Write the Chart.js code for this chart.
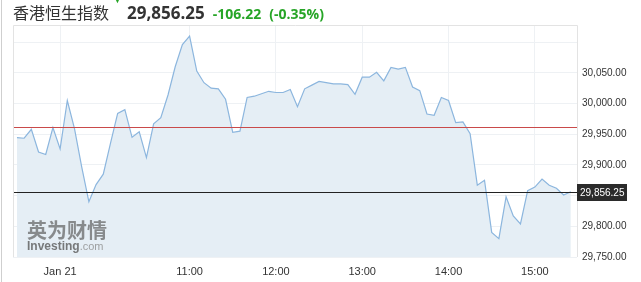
<!DOCTYPE html>
<html>
<head>
<meta charset="utf-8">
<script src="https://cdn.jsdelivr.net/npm/chart.js@4.4.1/dist/chart.umd.min.js"></script>
<style>
  body { margin: 0; background: #fff; }
  #wrap { position: relative; width: 641px; height: 282px; overflow: hidden; }
  #head { position: absolute; left: 13px; top: 0; height: 25px; line-height: 25px; white-space: nowrap; }
  #head .name { font: 16px 'Noto Sans CJK SC', sans-serif; color: #333; }
  #head .price { font: bold 17px 'Open Sans', 'Noto Sans', sans-serif; color: #333; margin-left: 18px; }
  #head .chg { font: bold 14px 'Open Sans', 'Noto Sans', sans-serif; color: #27a527; margin-left: 8px; }
  #head .arrow { position: absolute; left: 100px; top: -7px; font-size: 9px; color: #27a527; line-height: 14px; }
</style>
</head>
<body>
<div id="wrap">
  <canvas id="hsiChart" width="641" height="282"></canvas>
  <div id="head">
    <span class="name">香港恒生指数</span><span class="arrow">▼</span><span class="price">29,856.25</span><span class="chg">-106.22</span><span class="chg">(-0.35%)</span>
  </div>
</div>
<script>
// 5-minute closes, Jan 21 session
const values = [
  29944.6, 29943.5, 29958, 29921, 29917, 29961, 29926, 30005, 29959, 29897,
  29840, 29868, 29885, 29935, 29984, 29990, 29945, 29954, 29912, 29967,
  29977, 30014, 30060, 30096, 30110, 30053, 30034, 30025, 30024, 30007,
  29953, 29955, 30010, 30012, 30016, 30020, 30018, 30018, 30023, 29995,
  30024, 30030, 30036, 30034, 30032, 30032, 30031, 30015, 30043, 30043,
  30051, 30037, 30059, 30056, 30059, 30027, 30021, 29983, 29981, 30010,
  30005, 29969, 29970, 29951, 29867, 29875, 29790, 29780, 29848, 29817,
  29804, 29858, 29864, 29877, 29867, 29862, 29851, 29856.25
];
const timeLabels = ['Jan 21', '11:00', '12:00', '13:00', '14:00', '15:00'];
const timeIndex = [6, 24, 36, 48, 60, 72];
const yGridValues = [29750, 29800, 29850, 29900, 29950, 30000, 30050, 30100];
const yLabelValues = [29750, 29800, 29900, 29950, 30000, 30050];
const prevClose = 29962.47;
const lastPrice = 29856.25;

const fmt = v => v.toLocaleString('en-US', { minimumFractionDigits: 2, maximumFractionDigits: 2 });

const extras = {
  id: 'extras',
  afterDatasetsDraw(chart) {
    const { ctx, chartArea: a, scales: { y } } = chart;
    ctx.save();
    // watermark
    ctx.textBaseline = 'alphabetic';
    ctx.fillStyle = 'rgba(95,95,95,0.7)';
    ctx.font = 'bold 20px "Noto Sans CJK SC"';
    ctx.fillText('英为财情', 27, 238);
    ctx.font = 'bold 12px "Liberation Sans", Arial';
    ctx.fillStyle = 'rgba(90,90,90,0.8)';
    ctx.fillText('Investing', 27, 250);
    const w = ctx.measureText('Investing').width;
    ctx.font = '11px "Liberation Sans", Arial';
    ctx.fillStyle = 'rgba(140,140,140,0.8)';
    ctx.fillText('.com', 27 + w, 250);

    ctx.lineWidth = 1;
    const yp = Math.round(y.getPixelForValue(prevClose)) + 0.5;
    ctx.strokeStyle = '#c94a4a';
    ctx.beginPath(); ctx.moveTo(a.left, yp); ctx.lineTo(a.right, yp); ctx.stroke();
    const yl = Math.round(y.getPixelForValue(lastPrice)) + 0.5;
    ctx.strokeStyle = '#222';
    ctx.beginPath(); ctx.moveTo(a.left, yl); ctx.lineTo(a.right, yl); ctx.stroke();
    // plot frame
    ctx.strokeStyle = '#e3e3e3';
    ctx.beginPath();
    ctx.moveTo(a.left + 0.5, a.bottom); ctx.lineTo(a.left + 0.5, a.top + 0.5);
    ctx.lineTo(a.right + 0.5, a.top + 0.5); ctx.lineTo(a.right + 0.5, a.bottom);
    ctx.stroke();
    // outer left rule
    ctx.strokeStyle = '#cfcfcf';
    ctx.beginPath(); ctx.moveTo(1.5, 0); ctx.lineTo(1.5, chart.height); ctx.stroke();
    // last price tag
    ctx.fillStyle = '#2b2b2b';
    ctx.fillRect(a.right, yl - 8.5, 50, 17);
    ctx.fillStyle = '#fff';
    ctx.font = '10px "Liberation Sans", Arial';
    ctx.textBaseline = 'middle';
    ctx.fillText(fmt(lastPrice), a.right + 3, yl + 0.5);
    ctx.restore();
  }
};

new Chart(document.getElementById('hsiChart'), {
  type: 'line',
  data: {
    datasets: [{
      data: values.map((v, i) => ({ x: i, y: v })),
      borderColor: '#8cb6de',
      borderWidth: 1.2,
      backgroundColor: '#e5eef5',
      fill: 'start',
      pointRadius: 0,
      tension: 0
    }]
  },
  options: {
    responsive: false,
    animation: false,
    layout: { padding: { left: 13, top: 25, right: 0, bottom: 0 } },
    plugins: { legend: { display: false }, tooltip: { enabled: false } },
    scales: {
      x: {
        type: 'linear',
        min: -0.55,
        max: 77.86,
        afterFit: s => { s.height = 25; },
        afterBuildTicks: s => { s.ticks = timeIndex.map(v => ({ value: v })); },
        grid: { color: '#eef1f4', drawTicks: false },
        border: { display: false },
        ticks: {
          padding: 8,
          color: '#333',
          font: { family: '"Liberation Sans", Arial', size: 11 },
          maxRotation: 0,
          callback: v => timeLabels[timeIndex.indexOf(v)] || ''
        }
      },
      y: {
        position: 'right',
        min: 29750,
        max: 30128,
        afterFit: s => { s.width = 64; },
        afterBuildTicks: s => { s.ticks = yGridValues.map(v => ({ value: v })); },
        grid: { color: '#eef1f4', drawTicks: false },
        border: { display: false },
        ticks: {
          padding: 5,
          color: '#333',
          font: { family: '"Liberation Sans", Arial', size: 10 },
          callback: v => yLabelValues.includes(v) ? fmt(v) : ''
        }
      }
    }
  },
  plugins: [extras]
});
</script>
</body>
</html>
